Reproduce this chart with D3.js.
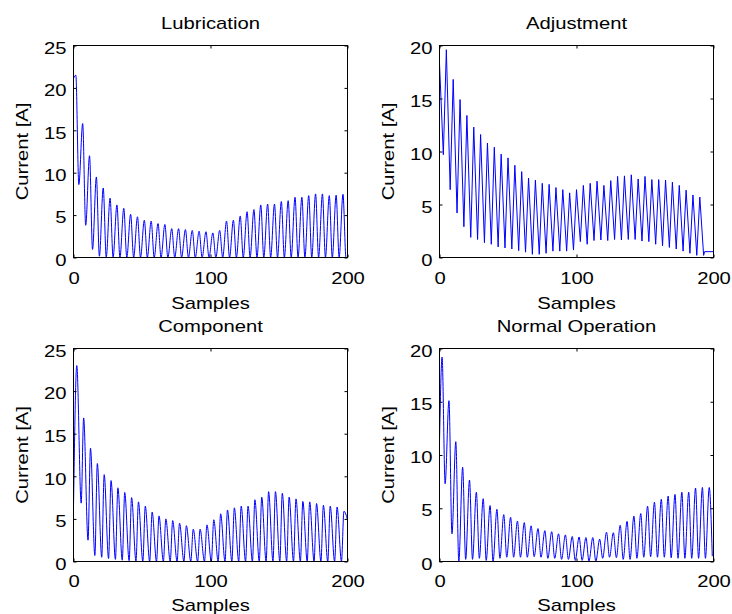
<!DOCTYPE html>
<html>
<head>
<meta charset="utf-8">
<script src="https://cdn.jsdelivr.net/npm/d3@7/dist/d3.min.js"></script>
<style>
  body { margin: 0; background: #fff; }
  svg text { font-family: "Liberation Sans", Arial, Helvetica, sans-serif; font-size: 17px; fill: #000; }
</style>
</head>
<body>
<div id="chart"></div>
<script>
const titles = ['Lubrication', 'Adjustment', 'Component', 'Normal Operation'];
const xLabel = 'Samples';
const yLabel = 'Current [A]';
const xTicks = [0, 100, 200];
const yTicks25 = [0, 5, 10, 15, 20, 25];
const yTicks20 = [0, 5, 10, 15, 20];
const period = 5;

// Lubrication
const lubStart = [[0, 21.1]];
const lubPeakAt = 1.7, lubTroughAt = 3.9;
const lubPeaks = [21.5, 15.8, 12.0, 9.5, 8.2, 7.0, 6.2, 5.8, 5.1, 4.8, 4.4, 4.3, 4.0, 3.9, 3.4, 3.4, 3.3, 3.2, 3.1, 3.04,
  2.9, 3.2, 4.3, 4.4, 4.9, 5.4, 5.65, 6.2, 6.3, 6.3, 6.6, 6.7, 7.1, 7.1, 7.3, 7.5, 7.5, 7.3, 7.35, 7.45];
const lubTroughs = [8.6, 3.8, 0.95, 0.15, 0.05, 0.02, 0, 0, 0, 0, 0, 0, 0, 0, 0, 0, 0, 0, 0, 0,
  0, 0, 0, 0, 0, 0, 0, 0, 0, 0, 0, 0, 0, 0, 0, 0, 0, 0, 0, 0];
const lubEnd = [[200, 0]];

// Adjustment
const adjStart = [];
const adjPeakAt = 0, adjTroughAt = 2.8;
const adjPeaks = [18.3, 19.6, 16.8, 14.9, 13.4, 12.3, 11.6, 10.8, 10.4, 9.75, 9.4, 8.7, 8.1, 7.5, 7.3, 7.0, 6.9, 6.6, 6.4, 6.1,
  6.4, 6.8, 7.0, 7.2, 6.8, 7.25, 7.65, 7.7, 7.8, 7.4, 7.65, 7.35, 7.35, 7.3, 7.1, 6.8, 6.35, 5.9, 5.7];
const adjTroughs = [9.7, 6.4, 4.2, 2.9, 1.9, 1.7, 1.4, 1.25, 1.0, 0.9, 0.8, 0.65, 0.5, 0.3, 0.3, 0.4, 0.6, 0.6, 0.6, 0.7,
  1.5, 1.25, 1.6, 1.65, 1.6, 1.7, 1.65, 1.7, 1.7, 1.55, 1.5, 1.25, 1.1, 0.95, 0.8, 0.6, 0.4, 0.2, 0.2];
const adjEnd = [[193.5, 0.55], [200, 0.55]];

// Component
const cmpStart = [[0, 6.4]];
const cmpPeakAt = 2.4, cmpTroughAt = 5.6;
const cmpPeaks = [23.0, 16.85, 13.3, 11.5, 10.2, 9.5, 8.65, 8.1, 7.5, 7.0, 6.5, 5.8, 5.35, 5.0, 4.8, 4.5, 4.2, 3.8, 3.8, 4.3,
  4.9, 5.6, 6.05, 6.3, 6.5, 6.5, 7.25, 7.55, 8.2, 8.2, 8.0, 7.55, 7.35, 7.05, 7.0, 6.8, 6.6, 6.5, 6.4, 5.9];
const cmpTroughs = [6.85, 2.5, 0.7, 0.5, 0.35, 0.25, 0.15, 0.1, 0.05, 0, 0, 0, 0, 0, 0, 0, 0, 0, 0, 0,
  0, 0, 0, 0, 0, 0, 0, 0, 0, 0, 0, 0, 0, 0, 0, 0, 0, 0, 0];
const cmpEnd = [[200, 4.9]];

// Normal Operation
const norStart = [[0, 11.2]];
const norPeakAt = 1.9, norTroughAt = 4.1;
const norPeaks = [19.2, 15.1, 11.25, 8.85, 7.65, 6.5, 5.9, 5.25, 4.9, 4.4, 4.15, 3.8, 3.65, 3.35, 3.1, 2.9, 2.8, 2.6, 2.5, 2.35,
  2.3, 2.25, 2.25, 2.1, 2.75, 2.7, 3.4, 3.77, 4.27, 4.5, 5.2, 5.57, 5.85, 6.15, 6.3, 6.5, 6.5, 6.9, 6.95, 6.95];
const norTroughs = [7.3, 2.6, 0, 0.2, 0.2, 0.3, 0.1, 0, 0.3, 0.4, 0.4, 0.4, 0.4, 0.45, 0.4, 0.3, 0.3, 0.2, 0.2, 0.1,
  0.1, 0.05, 0, 0.3, 0.4, 0.35, 0.2, 0.2, 0.3, 0.4, 0.45, 0.4, 0.4, 0.35, 0.3, 0.3, 0.3, 0.3, 0.3, 0.5];
const norEnd = [];

function wave(start, peaks, peakAt, troughs, troughAt, end) {
  let pts = start.slice();
  peaks.forEach((v, k) => {
    pts.push([period * k + peakAt, v]);
    if (k < troughs.length) pts.push([period * k + troughAt, troughs[k]]);
  });
  return pts.concat(end);
}

const panels = [
  { title: titles[0], pts: wave(lubStart, lubPeaks, lubPeakAt, lubTroughs, lubTroughAt, lubEnd), yTicks: yTicks25, curve: d3.curveMonotoneX },
  { title: titles[1], pts: wave(adjStart, adjPeaks, adjPeakAt, adjTroughs, adjTroughAt, adjEnd), yTicks: yTicks20, curve: d3.curveLinear },
  { title: titles[2], pts: wave(cmpStart, cmpPeaks, cmpPeakAt, cmpTroughs, cmpTroughAt, cmpEnd), yTicks: yTicks25, curve: d3.curveMonotoneX },
  { title: titles[3], pts: wave(norStart, norPeaks, norPeakAt, norTroughs, norTroughAt, norEnd), yTicks: yTicks20, curve: d3.curveMonotoneX }
];

const W = 732, H = 614;
const colX = [73.5, 439.5], pw = 274;
const rowY = [45.5, 348.5], rowH = [212, 213];
const tickOff = [26.5, 25], labelOff = [51, 49];
// the reference font is wider than Arial at the same height
const sx = 1.19;

const svg = d3.select('#chart').append('svg').attr('width', W).attr('height', H);

function place(sel, x, y, rot) {
  sel.attr('x', null).attr('y', null).attr('dy', null)
    .attr('transform', 'translate(' + x + ',' + y + ')' + (rot ? ' rotate(' + rot + ')' : '') + ' scale(' + sx + ',1)');
}

panels.forEach((p, i) => {
  let row = Math.floor(i / 2);
  let left = colX[i % 2], top = rowY[row], ph = rowH[row];
  let g = svg.append('g').attr('transform', 'translate(' + left + ',' + top + ')');

  let xScale = d3.scaleLinear().domain([0, 200]).range([0, pw]);
  let yScale = d3.scaleLinear().domain([0, d3.max(p.yTicks)]).range([ph, 0]);

  let lineg = d3.line().x(d => xScale(d[0])).y(d => yScale(d[1])).curve(p.curve);

  g.append('path').attr('d', lineg(p.pts)).attr('fill', 'none')
    .attr('stroke', '#0000ff').attr('stroke-width', 1).attr('stroke-linejoin', 'round');

  // ticks inside, on all four sides
  let ax = g.append('g').attr('transform', 'translate(0,' + ph + ')')
    .call(d3.axisBottom(xScale).tickValues(xTicks).tickSizeInner(-3).tickSizeOuter(0));
  place(ax.selectAll('text'), 0, tickOff[row]);
  g.append('g').call(d3.axisTop(xScale).tickValues(xTicks).tickSizeInner(-3).tickSizeOuter(0).tickFormat(''));
  let ay = g.append('g').call(d3.axisLeft(yScale).tickValues(p.yTicks).tickSizeInner(-3).tickSizeOuter(0));
  place(ay.selectAll('text'), -7, 7.7);
  g.append('g').attr('transform', 'translate(' + pw + ',0)')
    .call(d3.axisRight(yScale).tickValues(p.yTicks).tickSizeInner(-3).tickSizeOuter(0).tickFormat(''));

  g.selectAll('.domain').remove();
  g.selectAll('.tick line').attr('stroke', '#000');
  g.selectAll('.tick text').attr('fill', '#000');

  g.append('rect').attr('width', pw).attr('height', ph)
    .attr('fill', 'none').attr('stroke', '#000').attr('stroke-width', 1);

  place(g.append('text').attr('text-anchor', 'middle').text(p.title), pw / 2, -16.5);
  place(g.append('text').attr('text-anchor', 'middle').text(xLabel), pw / 2, ph + labelOff[row]);
  place(g.append('text').attr('text-anchor', 'middle').text(yLabel), -45.8, ph / 2, -90);
});
</script>
</body>
</html>
